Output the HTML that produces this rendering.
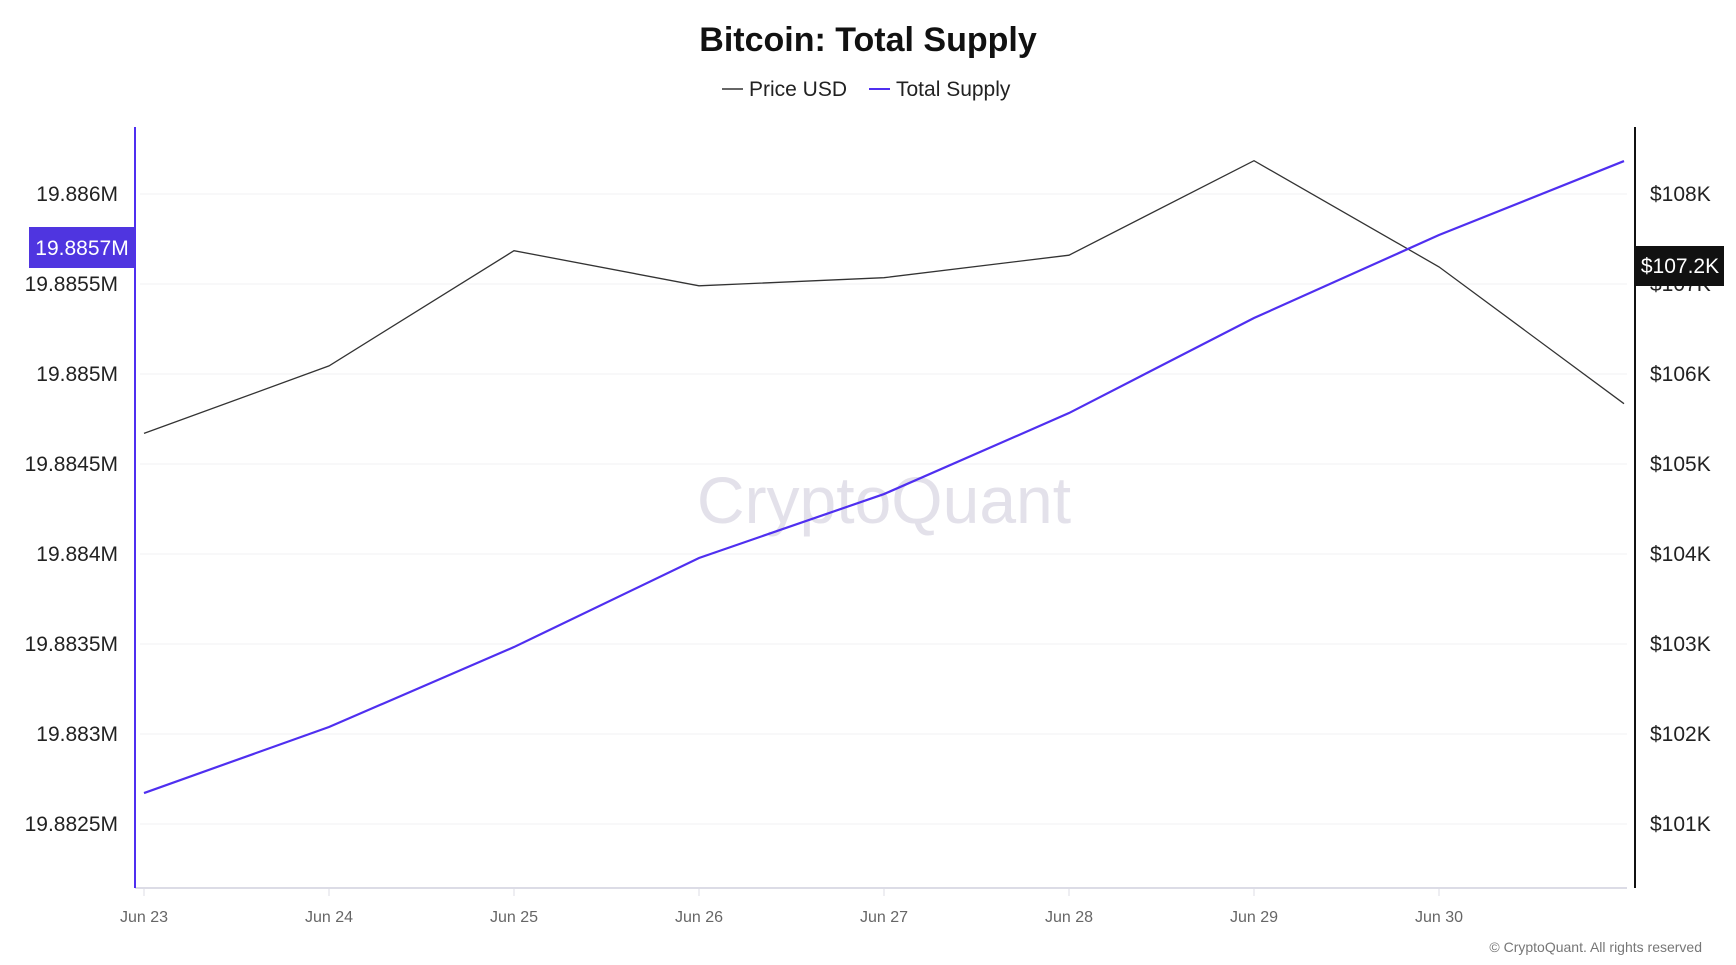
<!DOCTYPE html>
<html><head><meta charset="utf-8"><style>
html,body{margin:0;padding:0;background:#fff;width:1736px;height:965px;overflow:hidden;font-family:"Liberation Sans",sans-serif}
svg text{font-family:"Liberation Sans",sans-serif}
</style></head><body>
<svg id="chart" width="1736" height="965" viewBox="0 0 1736 965" xmlns="http://www.w3.org/2000/svg">
<text x="868" y="51" text-anchor="middle" font-size="34" font-weight="bold" fill="#111">Bitcoin: Total Supply</text>
<g>
<g><line x1="722" y1="89" x2="743" y2="89" stroke="#333" stroke-width="1.5"/><text x="749" y="96" font-size="21" fill="#222">Price USD</text></g>
<g><line x1="869" y1="89" x2="890" y2="89" stroke="#4f2ff0" stroke-width="2"/><text x="896" y="96" font-size="21" fill="#222">Total Supply</text></g>
</g>
<text x="884" y="523" text-anchor="middle" font-size="66" fill="#e3e1ea">CryptoQuant</text>
<g id="grid"></g>
<g id="xaxis"></g>
<g id="yleft"></g>
<g id="yright"></g>
<g id="series"></g>
<g id="labels"></g>
<text x="1702" y="952" text-anchor="end" font-size="14" fill="#777">© CryptoQuant. All rights reserved</text>
</svg>
<script>
const categories=["Jun 23","Jun 24","Jun 25","Jun 26","Jun 27","Jun 28","Jun 29","Jun 30","Jul 1"];
const supplyValues=[19.882672,19.883039,19.883483,19.883978,19.884333,19.884783,19.885311,19.885772,19.886183];
const priceValues=[105.34,106.09,107.37,106.98,107.07,107.32,108.37,107.19,105.67];
const leftTicks=[19.8825,19.883,19.8835,19.884,19.8845,19.885,19.8855,19.886];
const leftTickLabels=["19.8825M","19.883M","19.8835M","19.884M","19.8845M","19.885M","19.8855M","19.886M"];
const rightTicks=[101,102,103,104,105,106,107,108];
const rightTickLabels=["$101K","$102K","$103K","$104K","$105K","$106K","$107K","$108K"];
const xTickLabels=["Jun 23","Jun 24","Jun 25","Jun 26","Jun 27","Jun 28","Jun 29","Jun 30"];
const supplyLabel="19.8857M", supplyLabelValue=19.8857;
const priceLabel="$107.2K", priceLabelValue=107.2;

const NS="http://www.w3.org/2000/svg";
const X0=144, XSTEP=185, TOP=127, BOT=888, LAX=135, RAX=1635;
const xs=i=>X0+i*XSTEP;
const yL=v=>194+(19.886-v)/0.0005*90;
const yR=v=>194+(108-v)*90;
function mk(tag,attrs,parent){const e=document.createElementNS(NS,tag);for(const k in attrs)e.setAttribute(k,attrs[k]);parent.appendChild(e);return e;}
const grid=document.getElementById('grid'),xa=document.getElementById('xaxis'),yl=document.getElementById('yleft'),yr=document.getElementById('yright'),se=document.getElementById('series'),lb=document.getElementById('labels');
leftTicks.forEach((v,i)=>{
  const g=mk('line',{x1:LAX+5,x2:1627,y1:yL(v),y2:yL(v),stroke:'#f0f0f3','stroke-width':1},grid);
  
  
  const t=mk('text',{x:118,y:yL(v)+7,'text-anchor':'end','font-size':21,fill:'#222'},yl);
  t.textContent=leftTickLabels[i];
  
  
});
rightTicks.forEach((v,i)=>{
  const t=mk('text',{x:1650,y:yR(v)+7,'font-size':21,fill:'#222'},yr);
  t.textContent=rightTickLabels[i];
  
  
});
const la=mk('line',{x1:LAX,x2:LAX,y1:TOP,y2:BOT,stroke:'#4f2ff0','stroke-width':2},yl);


const ra=mk('line',{x1:RAX,x2:RAX,y1:TOP,y2:BOT,stroke:'#111','stroke-width':2},yr);


const xl=mk('line',{x1:LAX,x2:1627,y1:BOT,y2:BOT,stroke:'#dcdce6','stroke-width':2},xa);


xTickLabels.forEach((s,i)=>{
  const tk=mk('line',{x1:xs(i),x2:xs(i),y1:BOT,y2:BOT+8,stroke:'#dcdce6'},xa);
  
  
  const t=mk('text',{x:xs(i),y:922,'text-anchor':'middle','font-size':16,fill:'#666'},xa);
  t.textContent=s;
  
  
});
const pp=mk('polyline',{points:priceValues.map((v,i)=>xs(i)+','+yR(v)).join(' '),fill:'none',stroke:'#333','stroke-width':1.3},se);


const sp=mk('polyline',{points:supplyValues.map((v,i)=>xs(i)+','+yL(v)).join(' '),fill:'none',stroke:'#4f2ff0','stroke-width':2.2},se);


const ly=yL(supplyLabelValue);
const lr=mk('rect',{x:29,y:ly-21,width:106,height:41,fill:'#4f35e0'},lb);


const lt=mk('text',{x:82,y:ly+7,'text-anchor':'middle','font-size':21,fill:'#fff'},lb);
lt.textContent=supplyLabel;


const ry=yR(priceLabelValue);
const rr=mk('rect',{x:1635,y:ry-20,width:89,height:40,fill:'#111'},lb);


const rt=mk('text',{x:1680,y:ry+7,'text-anchor':'middle','font-size':21,fill:'#fff'},lb);
rt.textContent=priceLabel;


</script>
</body></html>
